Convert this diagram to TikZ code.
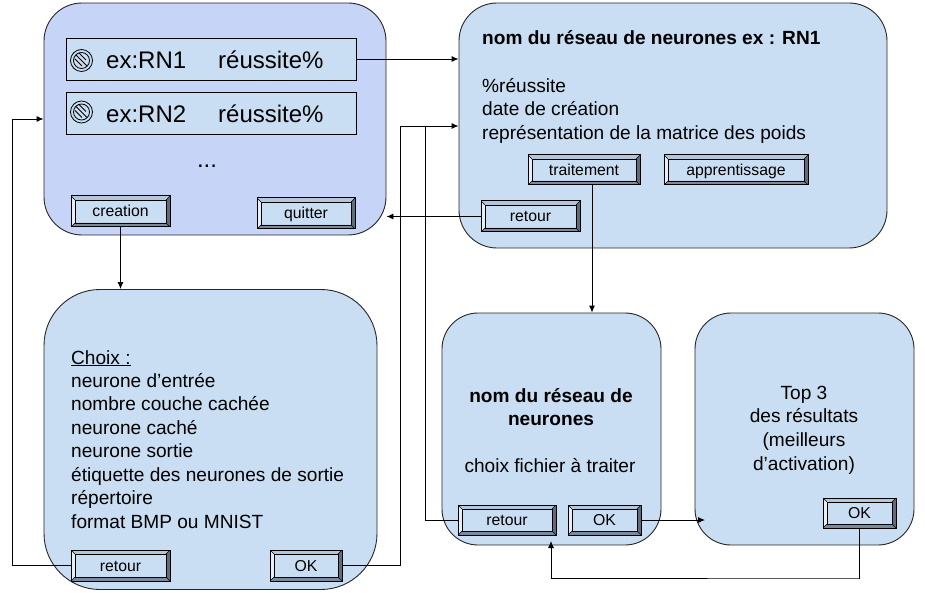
\documentclass[tikz,border=0pt]{standalone}
\usepackage{fontspec}
\setmainfont{Liberation Sans}
\usetikzlibrary{arrows.meta}
\definecolor{bleuclair}{HTML}{C9DEF3}
\definecolor{bleufonce}{HTML}{C6D4F7}
\definecolor{bevelhaut}{HTML}{B4C6D9}
\definecolor{bevelgauche}{HTML}{E6EFF8}
\definecolor{bevelbas}{HTML}{7A8A9C}
\definecolor{beveldroit}{HTML}{5F6C7B}
\tikzset{
  ecran/.style={draw=black!85, line width=0.9pt, fill=bleuclair, inner sep=0pt},
  ligne/.style={draw=black, line width=0.9pt, fill=bleuclair, inner sep=0pt, minimum width=290pt, minimum height=42pt},
  bouton/.style={draw=black, line width=1pt, fill=bleuclair, inner sep=0pt, text height=13pt, text depth=2pt, font=\fontsize{15.8}{18}\selectfont,
    path picture={
      \coordinate (so) at (path picture bounding box.south west);
      \coordinate (se) at (path picture bounding box.south east);
      \coordinate (no) at (path picture bounding box.north west);
      \coordinate (ne) at (path picture bounding box.north east);
      \fill[bevelhaut] (no) -- (ne) -- ([shift={(-4pt,-4pt)}]ne) -- ([shift={(4pt,-4pt)}]no) -- cycle;
      \fill[bevelgauche] (no) -- (so) -- ([shift={(4pt,4pt)}]so) -- ([shift={(4pt,-4pt)}]no) -- cycle;
      \fill[bevelbas] (so) -- (se) -- ([shift={(-4pt,4pt)}]se) -- ([shift={(4pt,4pt)}]so) -- cycle;
      \fill[beveldroit] (se) -- (ne) -- ([shift={(-4pt,-4pt)}]ne) -- ([shift={(-4pt,4pt)}]se) -- cycle;
      \draw[line width=0.7pt] ([shift={(4pt,4pt)}]so) rectangle ([shift={(-4pt,-4pt)}]ne);
      \draw[line width=0.4pt] (no) -- ++(4pt,-4pt) (ne) -- ++(-4pt,-4pt) (so) -- ++(4pt,4pt) (se) -- ++(-4pt,4pt);
    }},
  texte/.style={anchor=north west, inner sep=0pt, align=left, font=\fontsize{19.1}{23.45}\selectfont},
  grand/.style={anchor=west, inner sep=0pt, font=\fontsize{24}{26}\selectfont},
  centre/.style={inner sep=0pt, align=center, font=\fontsize{19.1}{23.6}\selectfont},
  interdit/.style={circle, draw=black, line width=0.8pt, fill=bleuclair, minimum size=22pt, inner sep=0pt,
    path picture={
      \draw[line width=0.8pt] (path picture bounding box.center) circle (8pt);
      \draw[line width=0.8pt] (-5.5pt,5.5pt)++(path picture bounding box.center) -- ++(11pt,-11pt)
        ++(-12pt,7pt) -- ++(7pt,-7pt) ++(-3pt,13pt) -- ++(7pt,-7pt);
    }},
  fleche/.style={draw=black, line width=0.9pt, -{Latex[length=7pt,width=6pt]}}
}
\begin{document}
\begin{tikzpicture}[x=1pt,y=-1pt]
  \useasboundingbox (0,0) rectangle (925,593);
  % Ecrans
  \node[ecran, fill=bleufonce, rounded corners=38pt, minimum width=342pt, minimum height=232pt] (liste) at (215,119) {};
  \node[ecran, rounded corners=38pt, minimum width=428pt, minimum height=245pt] (reseau) at (673,125.5) {};
  \node[ecran, rounded corners=56pt, minimum width=333pt, minimum height=300pt] (choix) at (210.5,439.5) {};
  \node[ecran, rounded corners=36pt, minimum width=219pt, minimum height=232pt] (fichier) at (551.5,429) {};
  \node[ecran, rounded corners=36pt, minimum width=219pt, minimum height=232pt] (top) at (804.5,429) {};
  % Lignes de la liste
  \node[ligne] (rnA) at (211,59) {};
  \node[ligne] (rnB) at (211,113) {};
  \node[interdit] (iconeA) at (81.5,60.5) {};
  \node[interdit] (iconeB) at (81.5,112) {};
  \node[grand] (nomA) at (106,60) {ex:RN1};
  \node[grand] (tauxA) at (218,60) {réussite\%};
  \node[grand] (nomB) at (106,114) {ex:RN2};
  \node[grand] (tauxB) at (218,114) {réussite\%};
  \node[grand, anchor=center] (suite) at (207,166.5) {...};
  % Textes
  \node[texte, font=\fontsize{19.1}{23.4}\selectfont\bfseries] (titre) at (482,30) {nom du réseau de neurones ex : RN1};
  \node[texte] (infos) at (482,78) {\%réussite\\date de création\\représentation de la matrice des poids};
  \node[texte] (champs) at (71,350) {\underline{Choix :}\\neurone d’entrée\\nombre couche cachée\\neurone caché\\neurone sortie\\étiquette des neurones de sortie\\répertoire\\format BMP ou MNIST};
  \node[centre, font=\fontsize{19.1}{23.6}\selectfont\bfseries] (titrefichier) at (551,407) {nom du réseau de\\neurones};
  \node[centre] (choixfichier) at (550,466) {choix fichier à traiter};
  \node[centre] (resultats) at (804,430) {Top 3\\des résultats\\(meilleurs\\d’activation)};
  % Connecteurs
  \coordinate (coudeG) at (12,119);
  \coordinate (coudeM) at (400,126);
  \coordinate (coudeF) at (425,126);
  \coordinate (coudeB) at (860,578);
  \coordinate (retourF) at (551,541);
  \coordinate (entreeT) at (705,520);
  \coordinate (sortieT) at (592,185);
  \node[bouton, minimum width=99pt, minimum height=31pt] (creation) at (120.5,211.5) {creation};
  \node[bouton, minimum width=98pt, minimum height=31pt] (quitter) at (306,213.5) {quitter};
  \node[bouton, minimum width=112pt, minimum height=30pt] (traitement) at (584,170) {traitement};
  \node[bouton, minimum width=144pt, minimum height=30pt] (apprentissage) at (736,170) {apprentissage};
  \node[bouton, minimum width=99pt, minimum height=31pt] (retourR) at (530.5,216.5) {retour};
  \node[bouton, minimum width=99pt, minimum height=31pt] (retourC) at (120.5,565.5) {retour};
  \node[bouton, minimum width=72pt, minimum height=31pt] (okC) at (306,565.5) {OK};
  \node[bouton, minimum width=98pt, minimum height=30pt] (retourT) at (507,520) {retour};
  \node[bouton, minimum width=73pt, minimum height=30pt] (okT) at (604.5,520) {OK};
  \node[bouton, minimum width=73pt, minimum height=30pt] (okS) at (859.5,513) {OK};
  \draw[fleche] (rnA.east) -- (rnA.east -| reseau.west);
  \draw[fleche] (creation.south) -- (creation.south |- choix.north);
  \draw[fleche] (retourC.west) -| (coudeG) -- (coudeG -| liste.west);
  \draw[fleche] (okC.east) -| (coudeM) -- (coudeM -| reseau.west);
  \draw[line width=0.9pt] (retourT.west) -| (coudeF);
  \draw[fleche] (retourR.west) -- (retourR.west -| liste.east);
  \draw[fleche] (sortieT) -- (sortieT |- fichier.north);
  \draw[fleche] (okT.east) -- (entreeT);
  \draw[fleche] (okS.south) |- (coudeB) -| (retourF);
\end{tikzpicture}
\end{document}
